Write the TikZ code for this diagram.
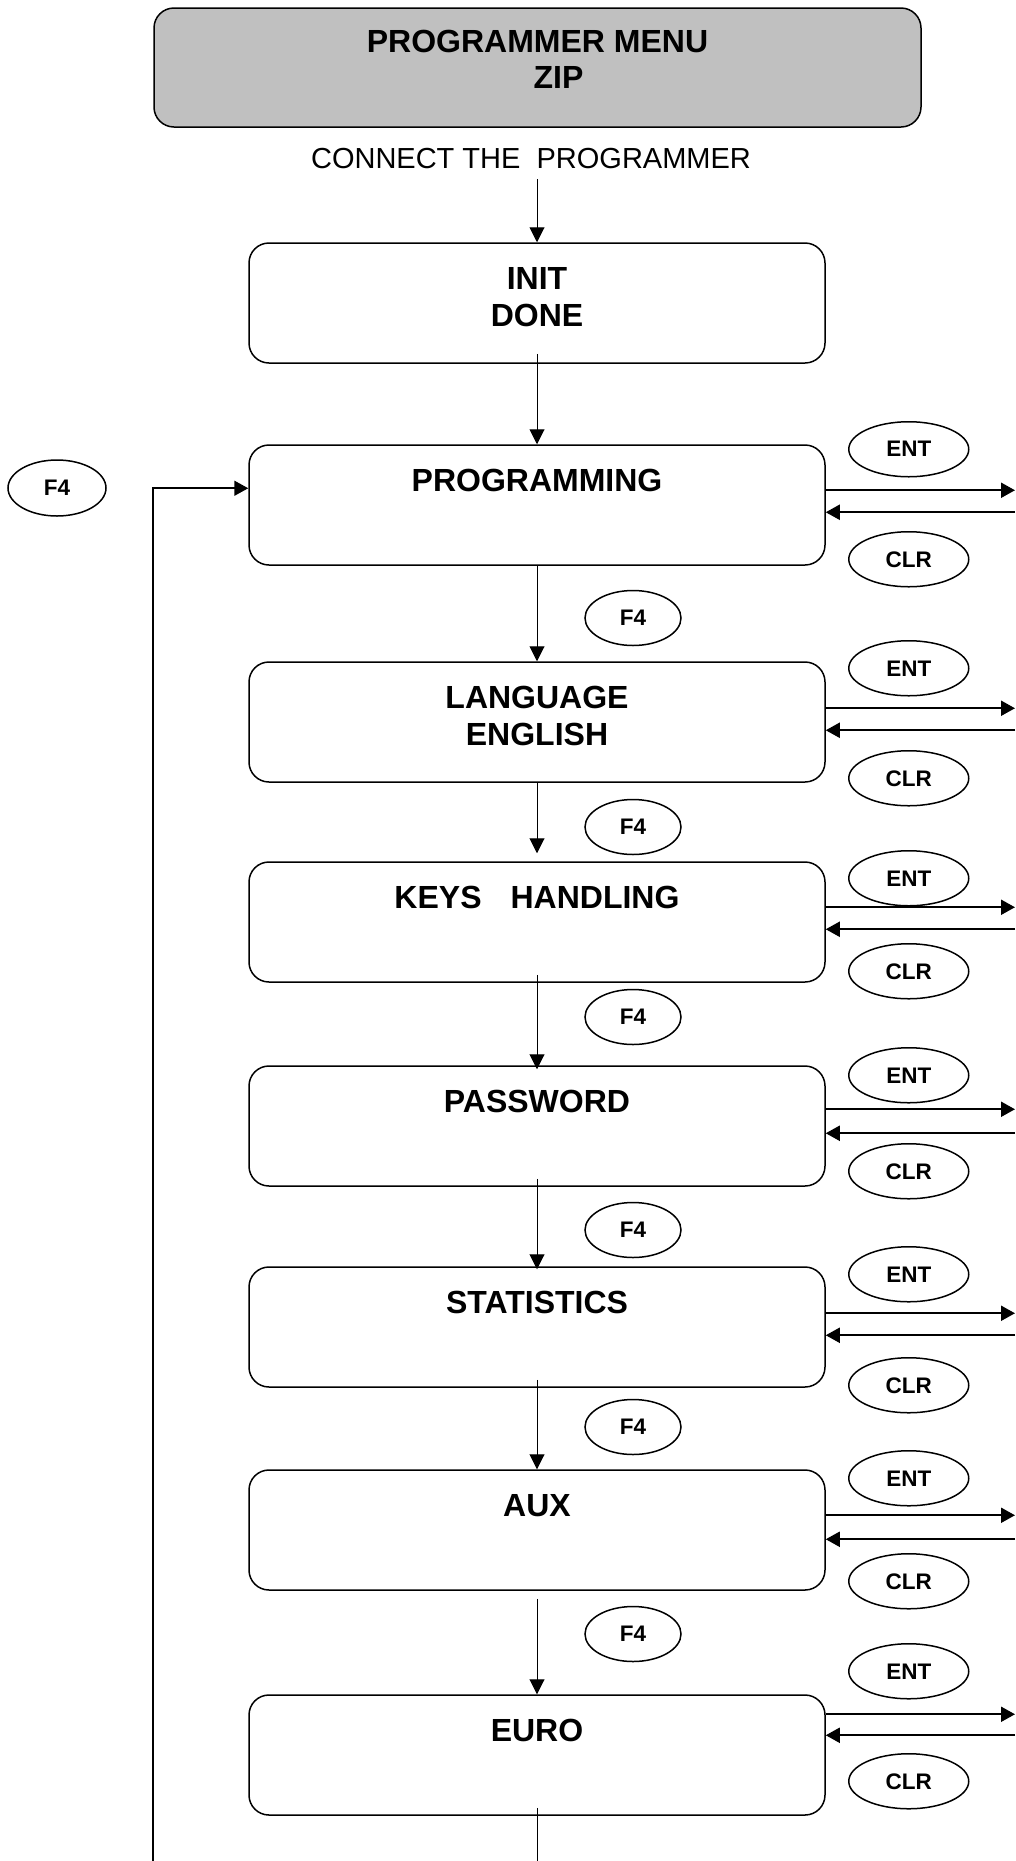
\documentclass[tikz,border=0pt]{standalone}
\usepackage{fontspec}
\setmainfont{Liberation Sans}
\usepackage{xcolor}
\usepackage{tikz}
\usetikzlibrary{calc,arrows.meta,shapes.geometric,positioning}
\definecolor{titlegray}{HTML}{C0C0C0}

\begin{document}
\begin{tikzpicture}[x=1pt, y=-1pt,
    menubox/.style={draw, line width=1.5pt, rounded corners=20pt, minimum width=576pt, minimum height=120pt, inner sep=0pt},
    boxtext/.style={font=\fontsize{32}{37}\selectfont\bfseries, align=center, inner sep=0pt, anchor=north},
    keyoval/.style={draw, ellipse, line width=1.5pt, minimum width=120pt, minimum height=55pt, inner sep=0pt, font=\fontsize{22.5}{27}\selectfont\bfseries},
    f4oval/.style={keyoval, minimum width=96pt},
    flow/.style={-{Triangle[length=15pt,width=15pt]}, line width=1pt},
    side/.style={-{Triangle[length=14pt,width=15pt]}, line width=2pt}
]

% Page frame
\fill[white] (0,0) rectangle (1015,1861);
\useasboundingbox (0,0) rectangle (1015,1861);
\coordinate (edge) at (1015,0);
\coordinate (bottom) at (153,1861);

% Title box
\node[menubox, fill=titlegray, minimum width=767pt, minimum height=119pt] (title) at (537.5,67.5) {};
\node[boxtext] (title-txt) at ($(title.north)+(0,23)$) {PROGRAMMER MENU\\[-1pt]\hspace*{42pt}ZIP};

% Start
\node[font=\fontsize{29}{34}\selectfont, anchor=base, inner sep=11pt] (connect) at (531,168) {CONNECT THE\ \ PROGRAMMER};
\node[menubox] (init) at (537,303) {};
\node[boxtext] (init-txt) at ($(init.north)+(0,25)$) {INIT\\DONE};

% Menu entries with ENT / CLR keys
\foreach \n/\ytop/\lbl/\eo/\ei/\ye/\yc in {
    prog/445/{PROGRAMMING}/46/68/5/115,
    lang/662/{LANGUAGE\\ENGLISH}/47/69/7/117,
    keys/862/{KEYS\hspace*{29pt}HANDLING}/46/68/17/110,
    pass/1066/{PASSWORD}/44/68/10/106,
    stat/1267/{STATISTICS}/47/69/8/119,
    aux/1470/{AUX}/46/70/9/112,
    euro/1695/{EURO}/20/41/-23/87} {
    \node[menubox] (\n) at (537,\ytop+60) {};
    \node[boxtext] (\n-txt) at ($(\n.north)+(0,25)$) {\lbl};
    \node[keyoval] (\n-ent) at ($(\n.north east)+(83,\ye)$) {ENT};
    \node[keyoval] (\n-clr) at ($(\n.north east)+(83,\yc)$) {CLR};
    \draw[side] ($(\n.north east)+(0,\eo)$) -- ($(\n.north east -| edge)+(0,\eo)$);
    \draw[side] ($(\n.north east -| edge)+(0,\ei)$) -- ($(\n.north east)+(0,\ei)$);
}

% F4 keys between entries
\foreach \yk [count=\i] in {618,827,1017,1230,1427,1634} {
    \node[f4oval] (f4-\i) at (633,\yk) {F4};
}

% Flow down the menu
\draw[flow] (connect.south -| init) -- (init.north);
\draw[flow] ([yshift=10pt]init.south) -- (prog.north);
\draw[flow] (prog.south) -- (lang.north);
\draw[flow] (lang.south) -- ([yshift=8pt]keys.north);
\draw[flow] ([yshift=8pt]keys.south) -- ([yshift=-4pt]pass.north);
\draw[flow] ([yshift=8pt]pass.south) -- ([yshift=-3pt]stat.north);
\draw[flow] ([yshift=8pt]stat.south) -- (aux.north);
\draw[flow] ([yshift=-8pt]aux.south) -- (euro.north);
\draw[line width=1pt] ([yshift=8pt]euro.south) -- (euro.south |- bottom);

% Loop back to PROGRAMMING
\node[f4oval, minimum width=98pt, minimum height=56pt] (f4-back) at (57,488) {F4};
\draw[side, line width=1.6pt] (bottom) |- ($(prog.north west)+(0,44)$);

\end{tikzpicture}
\end{document}
